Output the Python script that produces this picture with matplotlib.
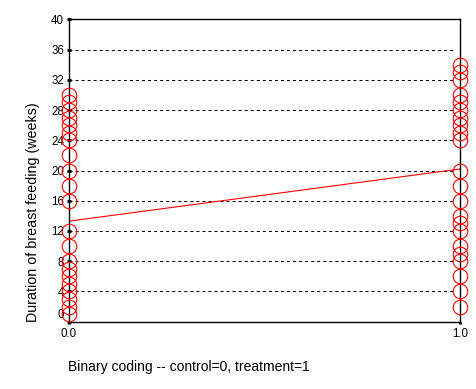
import matplotlib
matplotlib.use("Agg")
import matplotlib.pyplot as plt
import matplotlib.transforms as mtransforms

plt.rcParams['font.family'] = ['Liberation Sans', 'DejaVu Sans']

# Data
control_weeks = [30, 29, 28, 27, 26, 25, 24, 22, 20, 18, 16, 12, 10,
                 8, 7, 6, 5, 4, 3, 2, 1]
treatment_weeks = [34, 33, 32, 30, 29, 28, 27, 26, 25, 24, 20, 18, 16,
                   14, 13, 12, 10, 9, 8, 6, 4, 2]
group_codes = [0.0, 1.0]
fit_values = [13.3, 20.2]
y_ticks = [0, 4, 8, 12, 16, 20, 24, 28, 32, 36, 40]
x_tick_labels = ['0.0', '1.0']

fig = plt.figure(figsize=(4.76, 3.89), dpi=100)
W, H = 476, 389
ax = fig.add_axes([69 / W, 1 - 321.7 / H, (460 - 69) / W, (321.7 - 19.3) / H])

ax.set_xlim(0, 1)
ax.set_ylim(0, 40)

# dashed horizontal grid
for v in y_ticks[1:-1]:
    ax.axhline(v, xmax=0.988, color='black', lw=0.75, ls=(0, (2.9, 2.9)), zorder=1)

# regression line
ax.plot(group_codes, fit_values, color='red', lw=0.8, zorder=2)

# points
ax.plot([group_codes[0]] * len(control_weeks), control_weeks, 'o', mfc='none',
        mec='red', mew=0.8, ms=10.5, clip_on=False, zorder=3)
ax.plot([group_codes[1]] * len(treatment_weeks), treatment_weeks, 'o', mfc='none',
        mec='red', mew=0.8, ms=10.5, clip_on=False, zorder=3)

for s in ax.spines.values():
    s.set_linewidth(1.0)
    s.set_color('black')

ax.set_yticks(y_ticks)
ax.set_yticklabels([str(v) for v in y_ticks])
ax.set_xticks(group_codes)
ax.set_xticklabels(x_tick_labels)
ax.tick_params(axis='y', direction='inout', length=3, width=2.2, pad=2,
               labelsize=8.3, colors='black')
ax.tick_params(axis='x', direction='out', length=1.5, width=2.2, pad=3,
               labelsize=8.3, colors='black')

# nudge the "0" label up as in the reference
off = mtransforms.ScaledTranslation(0, 6 / 72, fig.dpi_scale_trans)
lbl0 = ax.yaxis.get_major_ticks()[0].label1
lbl0.set_transform(lbl0.get_transform() + off)

fig.text(68 / W, 1 - 366.7 / H, 'Binary coding -- control=0, treatment=1',
         ha='left', va='center', fontsize=10)
fig.text(33 / W, 1 - 212 / H, 'Duration of breast feeding (weeks)',
         ha='center', va='center', rotation=90, fontsize=10.3)

fig.savefig('out.png', dpi=100)
